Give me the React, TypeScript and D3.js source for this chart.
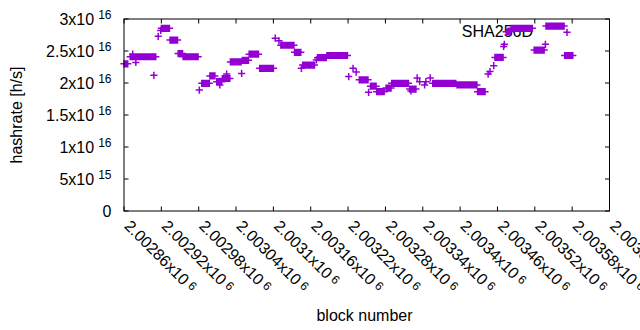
import React from "react";
import * as d3 from "d3";

// runs of blocks that share the same hashrate (values in units of 1e16 h/s)
const runFrom = [
  2002860, 2002870, 2002874, 2002879, 2002908, 2002915, 2002919, 2002920, 2002934, 2002947,
  2002955, 2002981, 2002985, 2002998, 2003009, 2003014, 2003018, 2003025, 2003031, 2003049,
  2003050, 2003061, 2003078, 2003103, 2003109, 2003112, 2003134, 2003145, 2003147, 2003169,
  2003171, 2003186, 2003221, 2003228, 2003233, 2003238, 2003253, 2003256, 2003266, 2003281,
  2003290, 2003319, 2003321, 2003331, 2003335, 2003343, 2003345, 2003352, 2003356, 2003395,
  2003428, 2003445, 2003448, 2003454, 2003456, 2003470, 2003471, 2003474, 2003482, 2003519,
  2003537, 2003538, 2003568,
];
const runTo = [
  2002866, 2002911, 2002874, 2002879, 2002908, 2002915, 2002919, 2002933, 2002946, 2002954,
  2002979, 2002981, 2002997, 2003006, 2003017, 2003014, 2003030, 2003025, 2003048, 2003049,
  2003060, 2003076, 2003100, 2003103, 2003109, 2003133, 2003144, 2003145, 2003166, 2003169,
  2003185, 2003219, 2003221, 2003228, 2003233, 2003252, 2003253, 2003265, 2003278, 2003289,
  2003317, 2003329, 2003321, 2003331, 2003335, 2003343, 2003345, 2003352, 2003393, 2003427,
  2003440, 2003445, 2003448, 2003454, 2003469, 2003470, 2003471, 2003481, 2003516, 2003535,
  2003537, 2003567, 2003581,
];
const runRate = [
  2.3, 2.41, 2.45, 2.32, 2.12, 2.73, 2.82, 2.855, 2.67, 2.46,
  2.41, 1.89, 1.995, 2.11, 2.02, 1.97, 2.07, 2.14, 2.33, 2.15,
  2.355, 2.45, 2.23, 2.7, 2.66, 2.59, 2.48, 2.23, 2.28, 2.36,
  2.395, 2.43, 2.1, 2.23, 2.17, 2.05, 1.855, 1.95, 1.865, 1.92,
  1.995, 1.905, 1.875, 2.08, 2.02, 1.97, 2.02, 2.08, 1.995, 1.97,
  1.865, 2.14, 2.18, 2.27, 2.4, 2.57, 2.605, 2.8, 2.855, 2.515,
  2.605, 2.89, 2.43,
];

const xTicks = [
  2002860, 2002920, 2002980, 2003040, 2003100, 2003160, 2003220,
  2003280, 2003340, 2003400, 2003460, 2003520, 2003580, 2003640,
];
const yTicks = [0, 5e15, 1e16, 1.5e16, 2e16, 2.5e16, 3e16];

const seriesName = "SHA256D";
const color = "#9400d3";
const font = "'Liberation Sans', Arial, sans-serif";

function sci(v: number): [string, string] {
  if (v === 0) return ["0", ""];
  const e = Math.floor(Math.log10(Math.abs(v)) + 1e-9);
  const m = parseFloat((v / Math.pow(10, e)).toFixed(6));
  return [`${m}x10`, `${e}`];
}

export default function App() {
  const W = 640;
  const H = 330;
  const left = 124, right = 609.5, top = 19, bottom = 211;

  const x = d3.scaleLinear().domain([2002860, 2003640]).range([left, right]);
  const y = d3.scaleLinear().domain([0, 3e16]).range([bottom, top]);

  const s = 3.6;
  let d = "";
  runFrom.forEach((from, i) => {
    const py = y(runRate[i] * 1e16);
    for (let b = from; b <= runTo[i]; b++) {
      const px = x(b);
      d += `M${px - s},${py}h${2 * s}M${px},${py - s}v${2 * s}`;
    }
  });

  const tick = 4.5;

  return (
    <svg
      width={W}
      height={H}
      style={{ position: "absolute", left: 0, top: 0, background: "#fff" }}
      fontFamily={font}
    >
      <rect x={0} y={0} width={W} height={H} fill="#fff" />
      {/* ticks */}
      <g stroke="#000" strokeWidth={1}>
        {yTicks.map((t) => (
          <g key={"y" + t}>
            <line x1={left} x2={left + tick} y1={y(t)} y2={y(t)} />
            <line x1={right} x2={right - tick} y1={y(t)} y2={y(t)} />
          </g>
        ))}
        {xTicks.map((t) => (
          <g key={"x" + t}>
            <line x1={x(t)} x2={x(t)} y1={bottom} y2={bottom - tick} />
            <line x1={x(t)} x2={x(t)} y1={top} y2={top + tick} />
          </g>
        ))}
      </g>
      {/* y tick labels */}
      {yTicks.map((t) => {
        const [m, e] = sci(t);
        return (
          <text key={"yl" + t} x={111.5} y={y(t) + 5.5} textAnchor="end" fontSize={16} fill="#000">
            <tspan>{m}</tspan>
            {e && (
              <tspan dx={4} dy={-6} fontSize={12}>
                {e}
              </tspan>
            )}
          </text>
        );
      })}
      {/* x tick labels */}
      {xTicks.map((t) => {
        const [m, e] = sci(t);
        return (
          <text
            key={"xl" + t}
            transform={`translate(${x(t) - 0.5},${227}) rotate(45)`}
            fontSize={16}
            fill="#000"
          >
            <tspan>{m}</tspan>
            <tspan dx={3.5} dy={-3} fontSize={12}>
              {e}
            </tspan>
          </text>
        );
      })}
      {/* axis titles */}
      <text x={364.5} y={320.5} textAnchor="middle" fontSize={16} fill="#000">
        block number
      </text>
      <text
        transform={`translate(21.5,${(top + bottom) / 2}) rotate(-90)`}
        textAnchor="middle"
        fontSize={16}
        fill="#000"
      >
        hashrate [h/s]
      </text>
      {/* key */}
      <text x={533} y={36.7} textAnchor="end" fontSize={16} fill="#000">
        {seriesName}
      </text>
      <path
        d={`M${567 - s},32.3h${2 * s}M567,${32.3 - s}v${2 * s}`}
        stroke={color}
        strokeWidth={1.5}
        fill="none"
      />
      {/* data */}
      <path d={d} stroke={color} strokeWidth={1.5} fill="none" />
      {/* border */}
      <rect
        x={left}
        y={top}
        width={right - left}
        height={bottom - top}
        fill="none"
        stroke="#000"
        strokeWidth={1}
      />
    </svg>
  );
}
